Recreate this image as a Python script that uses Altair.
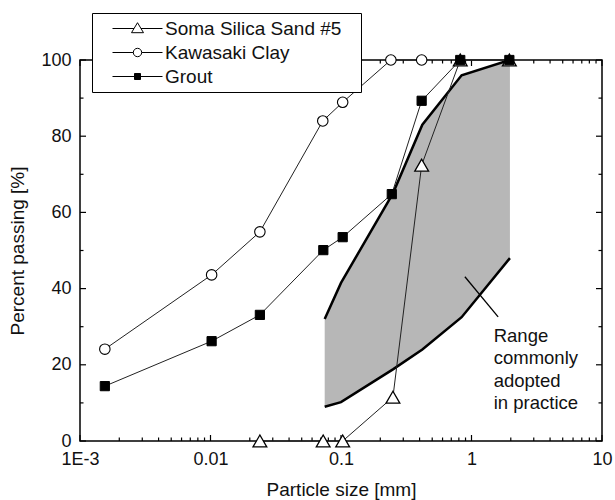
import altair as alt
import pandas as pd

# ---------------- data ----------------
series_names = ["Soma Silica Sand #5", "Kawasaki Clay", "Grout"]

soma_x = [0.0239, 0.073, 0.103, 0.25, 0.415, 0.82, 1.95]
soma_y = [0, 0, 0, 11.5, 72.4, 100, 100]

kawa_x = [0.00155, 0.0102, 0.0239, 0.0725, 0.103, 0.241, 0.415]
kawa_y = [24.1, 43.6, 54.9, 84.0, 88.9, 100, 100]

grout_x = [0.00155, 0.0102, 0.0239, 0.0732, 0.103, 0.245, 0.415, 0.82, 1.95]
grout_y = [14.4, 26.2, 33.1, 50.1, 53.5, 64.8, 89.3, 100, 100]

range_x = [0.075, 0.1, 0.25, 0.42, 0.84, 1.97]
range_lower = [9.0, 10.2, 18.8, 24.0, 32.5, 48.0]
range_upper = [32.0, 41.5, 65.0, 83.0, 96.0, 100.0]

leader_x = [0.89]
leader_x2 = [1.6]
leader_y = [43.1]
leader_y2 = [32.6]

annot_lines = ["Range", "commonly", "adopted", "in practice"]
annot_x = [1.48]
annot_y = [30.0]

x_major = [0.001, 0.01, 0.1, 1, 10]
x_minor = [m * d for d in [0.001, 0.01, 0.1, 1] for m in range(2, 10)]
y_major = [0, 20, 40, 60, 80, 100]
y_minor = [10, 30, 50, 70, 90]

# ---------------- tables ----------------
rows = []
for name, xs, ys in [(series_names[0], soma_x, soma_y),
                     (series_names[1], kawa_x, kawa_y),
                     (series_names[2], grout_x, grout_y)]:
    for a, b in zip(xs, ys):
        rows.append({"series": name, "x": a, "y": b})
df = pd.DataFrame(rows)
band = pd.DataFrame({"x": range_x, "lo": range_lower, "hi": range_upper})
leader = pd.DataFrame({"x": leader_x, "x2": leader_x2, "y": leader_y, "y2": leader_y2})
annot = pd.DataFrame({"x": annot_x, "y": annot_y, "t": ["\n".join(annot_lines)]})
legdf = pd.DataFrame({"series": series_names})

W, H = 522, 381
FONT = "Liberation Sans"
xscale = alt.Scale(type="log", domain=[0.001, 10], nice=False)
yscale = alt.Scale(domain=[0, 100], nice=False, zero=False)

x_axis = alt.Axis(values=x_major, labelExpr="datum.value < 0.005 ? '1E-3' : toString(datum.value)",
                  labelPadding=9, titlePadding=12, labelOverlap=False, labelFlush=False)
y_axis = alt.Axis(values=y_major, labelPadding=9, titlePadding=13, labelOverlap=False)

area = alt.Chart(band).mark_area(color="#b7b7b7").encode(
    x=alt.X("x:Q", scale=xscale, axis=x_axis, title="Particle size [mm]"),
    y=alt.Y("lo:Q", scale=yscale, axis=y_axis, title="Percent passing [%]"),
    y2="hi:Q",
)
upper = alt.Chart(band).mark_line(color="black", strokeWidth=2.5).encode(
    x=alt.X("x:Q", scale=xscale), y=alt.Y("hi:Q", scale=yscale))
lower = alt.Chart(band).mark_line(color="black", strokeWidth=2.5).encode(
    x=alt.X("x:Q", scale=xscale), y=alt.Y("lo:Q", scale=yscale))


def xticks(vals, y1, y2):
    return alt.Chart(pd.DataFrame({"v": vals})).mark_rule(color="black", strokeWidth=1.2).encode(
        x=alt.X("v:Q", scale=xscale), y=alt.value(y1), y2=alt.value(y2))


def yticks(vals, x1, x2):
    return alt.Chart(pd.DataFrame({"v": vals})).mark_rule(color="black", strokeWidth=1.2).encode(
        y=alt.Y("v:Q", scale=yscale), x=alt.value(x1), x2=alt.value(x2))


ticks = [
    xticks(x_major, H, H - 6), xticks(x_minor, H, H - 3.5),
    xticks(x_major, 0, 6), xticks(x_minor, 0, 3.5),
    yticks(y_major, 0, 6), yticks(y_minor, 0, 3.5),
    yticks(y_major, W, W - 6), yticks(y_minor, W, W - 3.5),
]

lines = alt.Chart(df).mark_line(color="#222", strokeWidth=1).encode(
    x=alt.X("x:Q", scale=xscale), y=alt.Y("y:Q", scale=yscale), detail="series:N")

pt_soma = alt.Chart(df).transform_filter(alt.datum.series == series_names[0]).mark_point(
    shape="triangle-up", filled=True, fill="white", stroke="black", strokeWidth=1.3, size=190, opacity=1
).encode(x=alt.X("x:Q", scale=xscale), y=alt.Y("y:Q", scale=yscale))
pt_kawa = alt.Chart(df).transform_filter(alt.datum.series == series_names[1]).mark_point(
    shape="circle", filled=True, fill="white", stroke="black", strokeWidth=1.1, size=110, opacity=1
).encode(x=alt.X("x:Q", scale=xscale), y=alt.Y("y:Q", scale=yscale))
pt_grout = alt.Chart(df).transform_filter(alt.datum.series == series_names[2]).mark_point(
    shape="square", filled=True, fill="black", stroke="black", strokeWidth=1, size=85, opacity=1
).encode(x=alt.X("x:Q", scale=xscale), y=alt.Y("y:Q", scale=yscale))

lead = alt.Chart(leader).mark_rule(color="black", strokeWidth=1.3).encode(
    x=alt.X("x:Q", scale=xscale), x2="x2:Q", y=alt.Y("y:Q", scale=yscale), y2="y2:Q")
txt = alt.Chart(annot).mark_text(align="left", baseline="top", font=FONT, fontSize=18.5,
                                 lineHeight=22.5, lineBreak="\n", color="#111").encode(
    x=alt.X("x:Q", scale=xscale), y=alt.Y("y:Q", scale=yscale), text="t:N")

# legend symbols: unit = 10 px (symbolSize 400 -> sqrt/2 = 10)
legend_paths = [
    "M-2.5,0L-0.35,0M0.35,0L2.5,0M-0.6,0.42L0,-0.58L0.6,0.42Z",
    "M-2.5,0L-0.42,0M0.42,0L2.5,0M-0.42,0A0.42,0.42 0 1,0 0.42,0A0.42,0.42 0 1,0 -0.42,0Z",
    "M-2.5,0L-0.3,0M0.3,0L2.5,0M-0.3,-0.3L0.3,-0.3L0.3,0.3L-0.3,0.3Z",
]
leg = alt.Legend(title=None, orient="none", legendX=12, legendY=-47, fillColor="white",
                 strokeColor="black", padding=5, labelFont=FONT, labelFontSize=19,
                 labelColor="#111", labelLimit=400, symbolSize=400, symbolStrokeWidth=1,
                 symbolOffset=30, labelOffset=17, rowPadding=3,
                 labelExpr="datum.label + '\u2800'")
legend_layer = alt.Chart(legdf).transform_filter("false").mark_point(
    filled=True, stroke="black", strokeWidth=1, size=400, opacity=1
).encode(
    shape=alt.Shape("series:N", scale=alt.Scale(domain=series_names, range=legend_paths), legend=leg),
    fill=alt.Fill("series:N", scale=alt.Scale(domain=series_names, range=["white", "white", "black"]), legend=leg),
)

chart = alt.layer(area, upper, lower, *ticks, lines, pt_soma, pt_kawa, pt_grout, lead, txt, legend_layer).properties(
    width=W, height=H,
    autosize=alt.AutoSizeParams(type="none"),
    padding={"left": 80, "top": 60, "right": 13, "bottom": 59},
    background="white",
).configure_axis(
    labelFont=FONT, titleFont=FONT, labelFontSize=18, titleFontSize=19,
    labelColor="#111", titleColor="#111", titleFontWeight="normal",
    domain=False, ticks=False, grid=False,
).configure_view(stroke="black", strokeWidth=1.5)

chart.save("out.html", embed_options={"renderer": "svg", "actions": False})
